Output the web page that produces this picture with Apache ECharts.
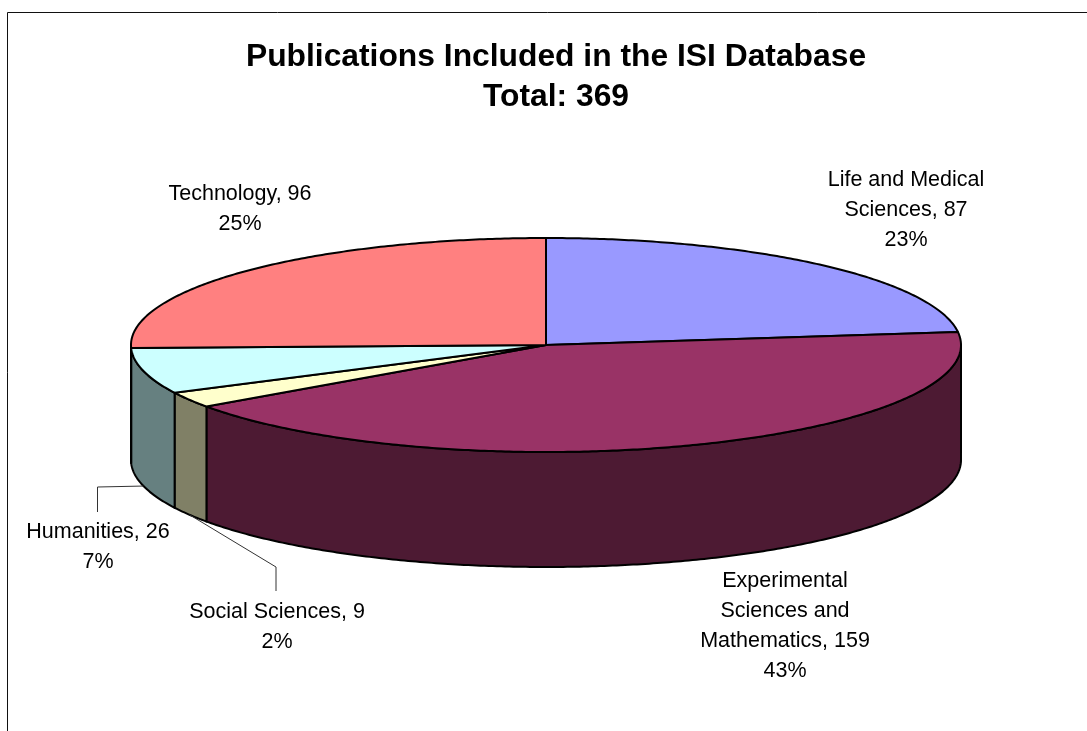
<!DOCTYPE html>
<html>
<head>
<meta charset="utf-8">
<style>html,body{margin:0;padding:0;background:#fff}#c{width:1087px;height:731px}</style>
<script src="https://cdn.jsdelivr.net/npm/echarts@6/dist/echarts.min.js"></script>
</head>
<body>
<div id="c"></div>
<script>
const categories = ["Life and Medical\nSciences", "Experimental\nSciences and\nMathematics", "Social Sciences", "Humanities", "Technology"];
const values = [87, 159, 9, 26, 96];
const percents = [23, 43, 2, 7, 25];
const topColors = ["#9999FF", "#993366", "#FFFFCC", "#CCFFFF", "#FF8080"];
const sideColors = ["#4D4D80", "#4D1A33", "#808066", "#668080", "#804040"];

// pie geometry and label placement (layout only)
const CX = 546, CY = 345, RX = 415, RY = 107, DEPTH = 115;
const labelPos = [[906, 208], [785, 624], [277, 625], [98, 545], [240, 207]];
const leaderElbows = [null, null, [[276, 567], [276, 591]], [[97.5, 487], [97.5, 512]], null];
const FONT = '21.5px "Liberation Sans", Arial, sans-serif';

const total = values.reduce((a, b) => a + b, 0);
const starts = [];
values.reduce((acc, v, i) => { starts[i] = acc; return acc + v; }, 0);
const toAngle = v => v / total * 2 * Math.PI;
const pt = (a, dy) => [CX + RX * Math.sin(a), CY - RY * Math.cos(a) + (dy || 0)];
function arc(a0, a1, dy) {
  const n = Math.max(2, Math.ceil((a1 - a0) / 0.01));
  const out = [];
  for (let i = 0; i <= n; i++) out.push(pt(a0 + (a1 - a0) * i / n, dy));
  return out;
}
const range = i => [toAngle(starts[i]), toAngle(starts[i] + values[i])];

function renderSide(params) {
  const i = params.dataIndex;
  const [a0, a1] = range(i);
  const s = Math.max(a0, Math.PI / 2), e = Math.min(a1, 3 * Math.PI / 2);
  if (e <= s) return { type: 'group', children: [] };
  const pts = arc(s, e, 0).concat(arc(s, e, DEPTH).reverse());
  return {
    type: 'polygon',
    shape: { points: pts },
    style: { fill: sideColors[i], stroke: '#000', lineWidth: 2, lineJoin: 'round' }
  };
}
function renderTop(params) {
  const i = params.dataIndex;
  const [a0, a1] = range(i);
  const pts = [[CX, CY]].concat(arc(a0, a1, 0));
  return {
    type: 'polygon',
    shape: { points: pts },
    style: { fill: topColors[i], stroke: '#000', lineWidth: 2, lineJoin: 'round' }
  };
}
function renderLabel(params, api) {
  const i = params.dataIndex;
  const [a0, a1] = range(i);
  const children = [];
  if (leaderElbows[i]) {
    const anchor = pt((a0 + a1) / 2, DEPTH);
    children.push({
      type: 'polyline',
      shape: { points: [anchor].concat(leaderElbows[i]) },
      style: { fill: null, stroke: '#333', lineWidth: 1 }
    });
  }
  children.push({
    type: 'text',
    style: {
      text: categories[i] + ', ' + api.value(0) + '\n' + percents[i] + '%',
      x: labelPos[i][0], y: labelPos[i][1] + 2,
      align: 'center', verticalAlign: 'middle',
      font: FONT, lineHeight: 30, fill: '#000'
    }
  });
  return { type: 'group', children };
}

const data = values.map((v, i) => ({ name: categories[i], value: [v] }));
const chart = echarts.init(document.getElementById('c'), null, { renderer: 'canvas' });
chart.setOption({
  animation: false,
  backgroundColor: '#fff',
  title: {
    text: 'Publications Included in the ISI Database\nTotal: 369',
    left: 551, top: 32, textAlign: 'center',
    textStyle: { fontFamily: '"Liberation Sans", Arial, sans-serif', fontWeight: 'bold', fontSize: 31.8, lineHeight: 40, color: '#000' }
  },
  graphic: [{
    type: 'rect', silent: true, z: 0,
    shape: { x: 7.5, y: 12.5, width: 1200, height: 900 },
    style: { fill: null, stroke: '#111', lineWidth: 1 }
  }],
  series: [
    { type: 'custom', coordinateSystem: 'none', z: 2, data, renderItem: renderSide, silent: true },
    { type: 'custom', coordinateSystem: 'none', z: 3, data, renderItem: renderTop, silent: true },
    { type: 'custom', coordinateSystem: 'none', z: 4, data, renderItem: renderLabel, silent: true }
  ]
});
</script>
</body>
</html>
